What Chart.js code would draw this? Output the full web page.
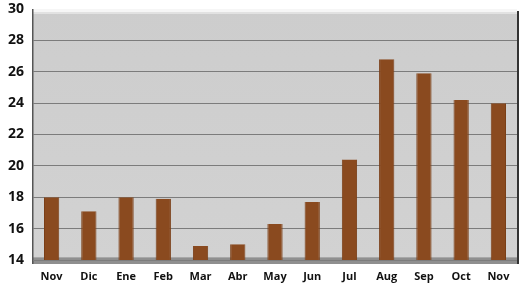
<!DOCTYPE html>
<html>
<head>
<meta charset="utf-8">
<script src="https://cdn.jsdelivr.net/npm/chart.js@4/dist/chart.umd.min.js"></script>
<style>
  html, body { margin: 0; padding: 0; background: #fff; }
  #wrap { width: 531px; height: 283px; }
</style>
</head>
<body>
<div id="wrap"><canvas id="c"></canvas></div>
<script>
const months = ['Nov', 'Dic', 'Ene', 'Feb', 'Mar', 'Abr', 'May', 'Jun', 'Jul', 'Aug', 'Sep', 'Oct', 'Nov'];
const values = [18.0, 17.1, 18.0, 17.9, 14.9, 15.0, 16.3, 17.7, 20.4, 26.8, 25.9, 24.2, 24.0];
const yMin = 14, yMax = 30, yStep = 2;

// gray wall + darker floor, drawn behind the bars
const wallPlugin = {
  id: 'wall',
  beforeDraw(chart) {
    const { ctx, chartArea: a } = chart;
    ctx.save();
    const g = ctx.createLinearGradient(0, a.top, 0, a.bottom);
    g.addColorStop(0, '#cdcdcd');
    g.addColorStop(1, '#d2d2d2');
    ctx.fillStyle = g;
    ctx.fillRect(a.left, a.top, a.right - a.left, a.bottom - a.top);
    // top highlight
    ctx.fillStyle = '#f6f6f6';
    ctx.fillRect(a.left, a.top, a.right - a.left, 3);
    ctx.fillStyle = '#e2e2e2';
    ctx.fillRect(a.left, a.top + 3, a.right - a.left, 2);
    // floor
    ctx.fillStyle = '#8f8f8f';
    ctx.fillRect(a.left, a.bottom - 2, a.right - a.left, 6);
    ctx.fillStyle = '#a8a8a8';
    ctx.fillRect(a.left, a.bottom - 3, a.right - a.left, 1);
    // left and right edges
    ctx.fillStyle = '#555';
    ctx.fillRect(a.left - 1, a.top, 1.5, a.bottom - a.top + 4);
    ctx.fillStyle = '#333';
    ctx.fillRect(a.right, a.top + 2, 2, a.bottom - a.top + 2);
    ctx.restore();
  }
};

new Chart(document.getElementById('c'), {
  type: 'bar',
  data: {
    labels: months,
    datasets: [{
      data: values,
      backgroundColor: '#8a4a1f',
      borderColor: '#7a3f18',
      borderWidth: { left: 1, right: 1, top: 0, bottom: 0 },
      categoryPercentage: 1,
      barPercentage: 0.41,
      borderSkipped: false
    }]
  },
  options: {
    responsive: true,
    maintainAspectRatio: false,
    animation: false,
    layout: { padding: { top: 9, right: 14, bottom: 0, left: 0 } },
    plugins: { legend: { display: false }, tooltip: { enabled: false } },
    scales: {
      x: {
        afterFit(scale) { scale.height = 23; },
        grid: { display: false, drawTicks: false },
        border: { display: false },
        ticks: {
          color: '#111',
          font: { family: 'Open Sans', size: 11, weight: 'bold' },
          padding: 10,
          maxRotation: 0
        }
      },
      y: {
        min: yMin,
        max: yMax,
        afterFit(scale) {
          scale.width = 33;
          scale.paddingTop = 0;
          scale.paddingBottom = 0;
        },
        grid: {
          color: (c) => (c.tick && c.tick.value === yMax ? 'rgba(0,0,0,0)' : '#7c7c7c'),
          lineWidth: 1,
          drawTicks: false
        },
        border: { display: false },
        ticks: {
          stepSize: yStep,
          color: '#111',
          padding: 9,
          font: { family: 'Open Sans', size: 14, weight: 'bold' }
        }
      }
    }
  },
  plugins: [wallPlugin]
});
</script>
</body>
</html>
